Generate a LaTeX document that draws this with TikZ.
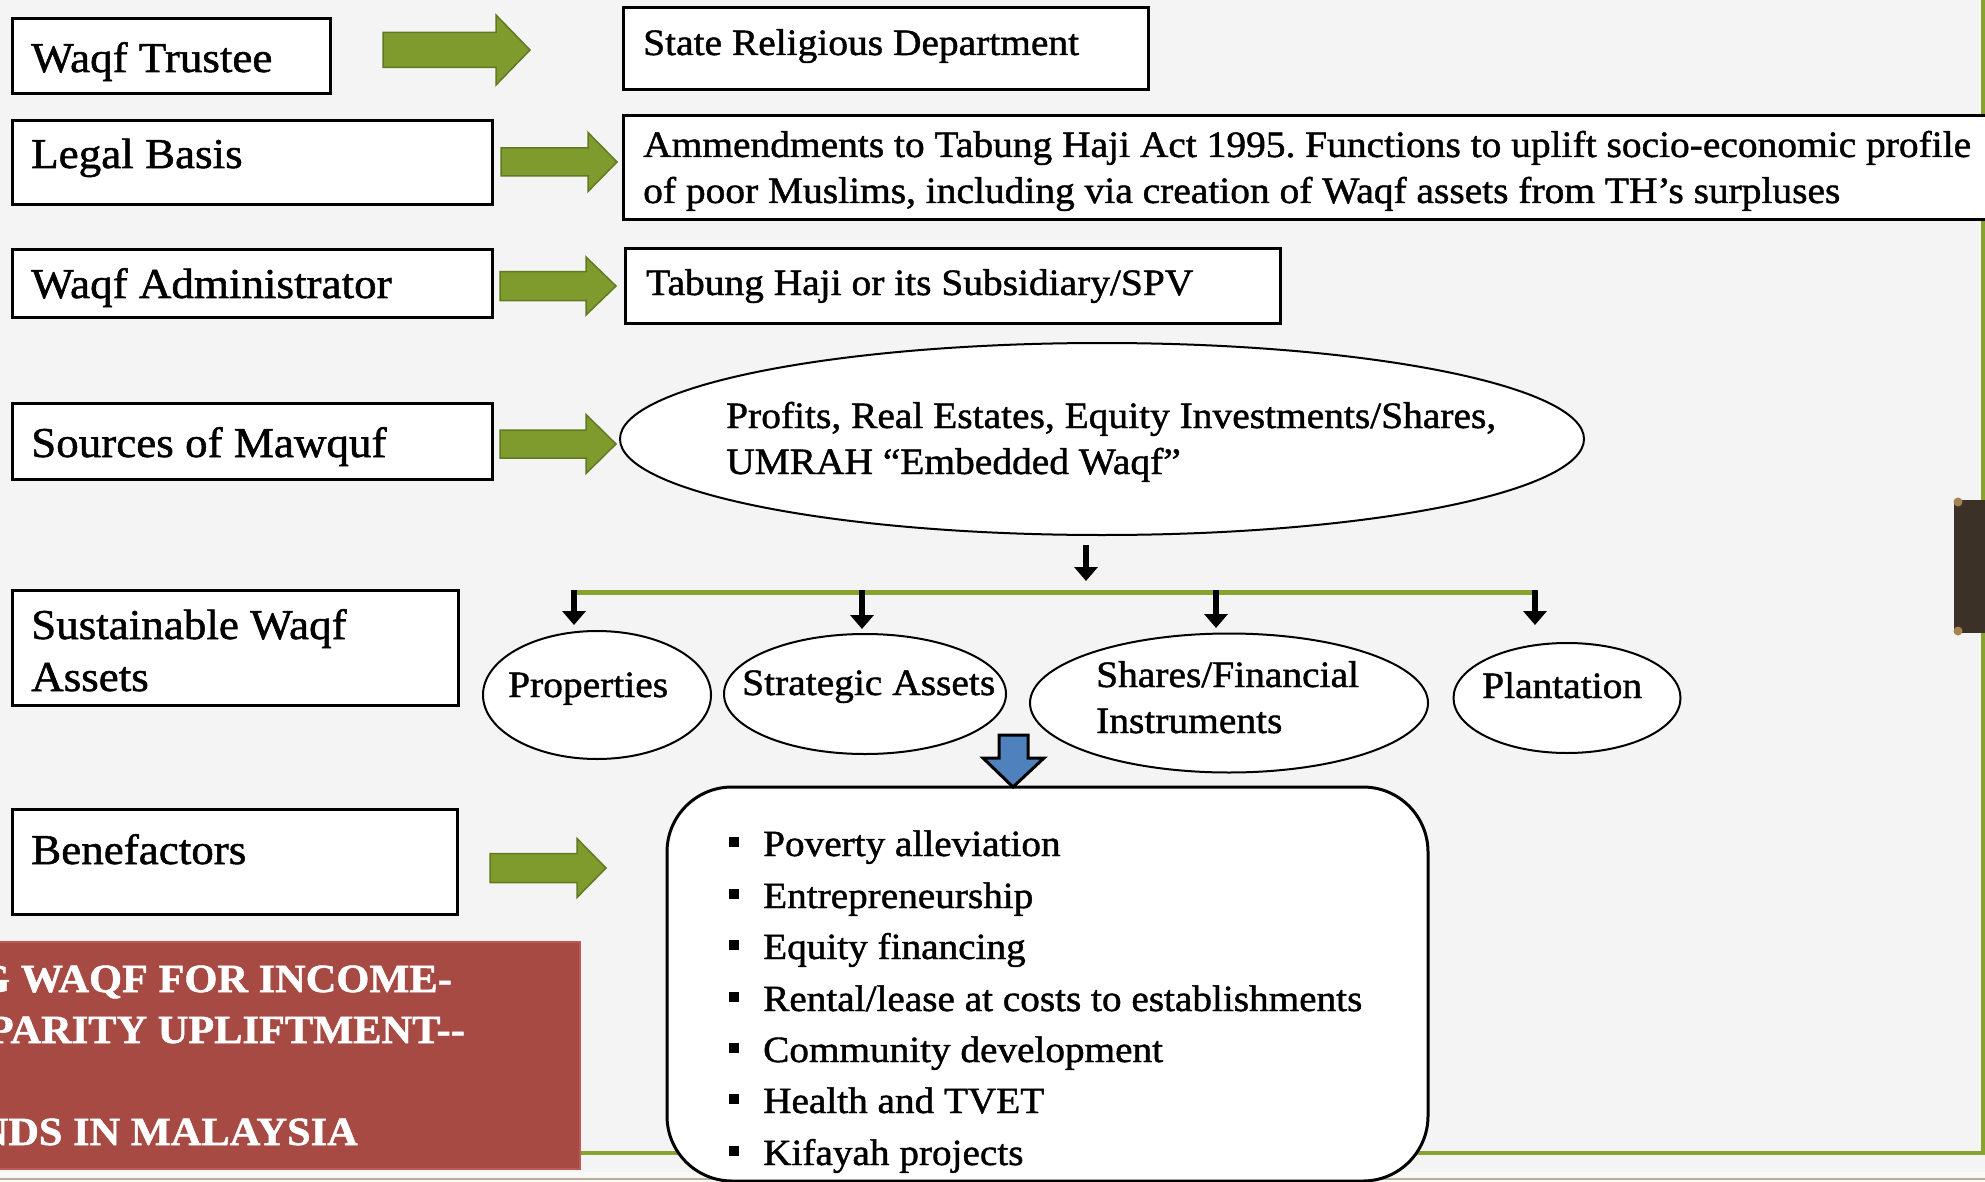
\documentclass[tikz,border=0pt]{standalone}
\usepackage{fontspec}
\setmainfont{Liberation Serif}[FakeStretch=1.06,FakeBold=1.2]
\usetikzlibrary{shapes.geometric,arrows.meta}
\frenchspacing

\definecolor{paper}{RGB}{244,244,244}
\definecolor{leaf}{RGB}{127,154,45}
\definecolor{leafedge}{RGB}{96,122,34}
\definecolor{rulegreen}{RGB}{136,162,48}
\definecolor{brick}{RGB}{168,74,68}
\definecolor{brickedge}{RGB}{186,92,84}
\definecolor{sky}{RGB}{79,129,189}
\definecolor{bark}{RGB}{59,49,39}
\definecolor{brass}{RGB}{165,132,82}
\definecolor{sand}{RGB}{184,174,154}

\newcommand{\fsLabel}{\fontsize{42.5}{48}\selectfont}
\newcommand{\fsBody}{\fontsize{37.2}{44}\selectfont}
\newcommand{\fsList}{\fontsize{37}{44}\selectfont}
\newcommand{\fsTitle}{\fontsize{40}{46}\selectfont\bfseries}

% block arrow: tail x, tip x, axis y, shaft half-width, head half-width, head length
\newcommand{\leafarrow}[6]{%
  \path[garrow] (#1,#3-#4) -- (#2-#6,#3-#4) -- (#2-#6,#3-#5) -- (#2,#3)
    -- (#2-#6,#3+#5) -- (#2-#6,#3+#4) -- (#1,#3+#4) -- cycle;}

\tikzset{
  box/.style={draw=black, line width=3pt, fill=white, inner sep=0pt, anchor=north west},
  oval/.style={ellipse, draw=black, line width=2pt, fill=white, inner sep=0pt},
  txt/.style={inner sep=0pt, anchor=base west, text=black},
  blk/.style={line width=6pt, draw=black, -{Triangle[width=23pt,length=14pt]}},
  gbar/.style={line width=5pt, draw=rulegreen},
  garrow/.style={fill=leaf, draw=leafedge, line width=1.5pt, line join=miter},
  bullet/.style={fill=black, draw=none, minimum size=10pt, inner sep=0pt}
}

\begin{document}
\begin{tikzpicture}[x=1pt,y=-1pt]
\useasboundingbox (0,0) rectangle (1985,1182);
\fill[paper] (0,0) rectangle (1985,1182);

% slide frame and footer strip
\draw[rulegreen, line width=4pt] (560,1153) -- (1983,1153) -- (1983,-5);
\fill[white!92!sand] (0,1172) rectangle (1985,1182);
\draw[sand, line width=2pt] (0,1179) -- (1985,1179);

% brown side tab
\fill[bark] (1954,500) rectangle (1990,633);
\fill[brass] (1958,502) circle (4.5);
\fill[brass] (1958,631) circle (4.5);

% red title band (its lines run off the left edge)
\fill[brick] (-5,942) rectangle (580,1169);
\draw[brickedge, line width=2pt] (-5,942) -- (580,942) -- (580,1169) -- (-5,1169);
\begin{scope}
  \clip (0,942) rectangle (580,1169);
  \node[txt, anchor=base east, font=\fsTitle, text=white] (title1) at (452,992) {G WAQF FOR INCOME-};
  \node[txt, anchor=base east, font=\fsTitle, text=white] (title2) at (465,1043) {PARITY UPLIFTMENT-{}-};
  \node[txt, anchor=base east, font=\fsTitle, text=white] (title3) at (358,1145) {NDS IN MALAYSIA};
\end{scope}

% left-hand label boxes
\node[box, minimum width=318pt, minimum height=75pt] (trusteeBox) at (11,17) {};
\node[box, minimum width=480pt, minimum height=84pt] (legalBox) at (11,119) {};
\node[box, minimum width=480pt, minimum height=68pt] (adminBox) at (11,248) {};
\node[box, minimum width=480pt, minimum height=76pt] (sourceBox) at (11,402) {};
\node[box, minimum width=446pt, minimum height=115pt] (assetBox) at (11,589) {};
\node[box, minimum width=445pt, minimum height=105pt] (benefBox) at (11,808) {};

\node[txt, font=\fsLabel] (trusteeTxt) at (31,72) {Waqf Trustee};
\node[txt, font=\fsLabel] (legalTxt) at (31,168) {Legal Basis};
\node[txt, font=\fsLabel] (adminTxt) at (31,298) {Waqf Administrator};
\node[txt, font=\fsLabel] (sourceTxt) at (31,457) {Sources of Mawquf};
\node[txt, font=\fsLabel] (assetTxtA) at (31,639) {Sustainable Waqf};
\node[txt, font=\fsLabel] (assetTxtB) at (31,691) {Assets};
\node[txt, font=\fsLabel] (benefTxt) at (31,864) {Benefactors};

% green block arrows
\leafarrow{383}{530}{50}{17.5}{35}{34}
\leafarrow{501}{617}{162}{14}{29.5}{29}
\leafarrow{500}{616}{286}{14.5}{29}{30}
\leafarrow{500}{616}{444}{14}{29.5}{30}
\leafarrow{490}{606}{868}{14.5}{29.5}{29}

% right-hand boxes
\node[box, minimum width=525pt, minimum height=82pt] (stateBox) at (622,6) {};
\node[box, minimum width=1380pt, minimum height=104pt] (actBox) at (622,114) {};
\node[box, minimum width=655pt, minimum height=75pt] (thBox) at (624,247) {};

\node[txt, font=\fsBody] (stateTxt) at (643,55) {State Religious Department};
\node[txt, font=\fsBody] (actTxtA) at (643,157) {Ammendments to Tabung Haji Act 1995. Functions to uplift socio-economic profile};
\node[txt, font=\fsBody] (actTxtB) at (643,203) {of poor Muslims, including via creation of Waqf assets from TH’s surpluses};
\node[txt, font=\fsBody] (thTxt) at (646,295) {Tabung Haji or its Subsidiary/SPV};

% sources ellipse
\node[oval, minimum width=964pt, minimum height=192pt] (sourceOval) at (1102,439) {};
\node[txt, font=\fsBody] (srcTxtA) at (726,428) {Profits, Real Estates, Equity Investments/Shares,};
\node[txt, font=\fsBody] (srcTxtB) at (726,474) {UMRAH “Embedded Waqf”};

% distribution bar
\coordinate (hubTop) at (1086,545);
\coordinate (hubEnd) at (1086,581);
\draw[blk] (hubTop) -- (hubEnd);
\coordinate (barL) at (574,592);
\coordinate (barR) at (1538,592);
\draw[gbar] (barL) -- (barR);

% asset ellipses
\node[oval, minimum width=228pt, minimum height=128pt] (propOval) at (597,695) {};
\node[oval, minimum width=282pt, minimum height=120pt] (stratOval) at (865,694) {};
\node[oval, minimum width=398pt, minimum height=139pt] (shareOval) at (1229,703) {};
\node[oval, minimum width=227pt, minimum height=110pt] (plantOval) at (1567,698) {};

\node[txt, font=\fsBody] (propTxt) at (508,697) {Properties};
\node[txt, font=\fsBody] (stratTxt) at (742,695) {Strategic Assets};
\node[txt, font=\fsBody] (shareTxtA) at (1096,687) {Shares/Financial};
\node[txt, font=\fsBody] (shareTxtB) at (1096,733) {Instruments};
\node[txt, font=\fsBody] (plantTxt) at (1482,698) {Plantation};

\coordinate (dropA) at (574,590);
\coordinate (dropB) at (862,590);
\coordinate (dropC) at (1216,590);
\coordinate (dropD) at (1535,590);
\coordinate (tipA) at (574,625);
\coordinate (tipB) at (862,629);
\coordinate (tipC) at (1216,628);
\coordinate (tipD) at (1535,625);
\draw[blk] (dropA) -- (tipA);
\draw[blk] (dropB) -- (tipB);
\draw[blk] (dropC) -- (tipC);
\draw[blk] (dropD) -- (tipD);

% outcomes box
\draw[fill=white, draw=black, line width=3pt, rounded corners=65pt]
  (667,787) rectangle (1428,1181);
\coordinate (outTop) at (1013,787);

% blue block arrow into the outcomes box
\path[fill=sky, draw=black, line width=3pt, line join=miter]
  (999,735) -- (1028,735) -- (1028,758) -- (1044,758) -- (outTop)
  -- (983,758) -- (999,758) -- cycle;

% outcome list
\foreach \i/\yy/\entry in {1/856/{Poverty alleviation}, 2/908/{Entrepreneurship},
  3/959/{Equity financing}, 4/1011/{Rental/lease at costs to establishments},
  5/1062/{Community development}, 6/1113/{Health and TVET}, 7/1165/{Kifayah projects}}{
  \node[bullet] (dot\i) at (734,\yy-14) {};
  \node[txt, font=\fsList] (item\i) at (763,\yy) {\entry};
}
\end{tikzpicture}
\end{document}
